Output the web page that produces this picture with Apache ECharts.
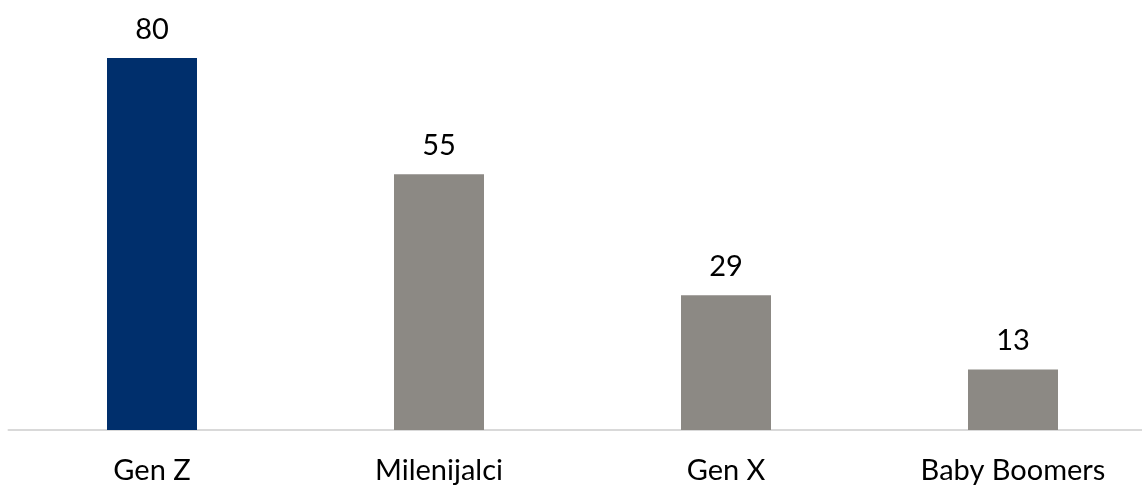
<!DOCTYPE html>
<html>
<head>
<meta charset="utf-8">
<script src="https://cdn.jsdelivr.net/npm/echarts@6/dist/echarts.min.js"></script>
<style>
html,body{margin:0;padding:0;background:#fff;overflow:hidden;width:1142px;height:486px;}
#c{width:1160px;height:486px;}
</style>
</head>
<body>
<div id="c"></div>
<script>
const categories = ["Gen Z", "Milenijalci", "Gen X", "Baby Boomers"];
const values = [80, 55, 29, 13];
const barColors = ["#002F6C", "#8C8984", "#8C8984", "#8C8984"];

const chart = echarts.init(document.getElementById('c'), null, {renderer: 'canvas'});
chart.setOption({
  animation: false,
  backgroundColor: '#ffffff',
  grid: {left: 8.5, width: 1148, top: 11.5, height: 418.5, containLabel: false},
  xAxis: {
    type: 'category',
    data: categories,
    axisLine: {show: true, lineStyle: {color: '#D9D9D9', width: 2}},
    axisTick: {show: false},
    axisLabel: {color: '#000000', fontFamily: 'Lato', fontSize: 29, margin: 26}
  },
  yAxis: {
    type: 'value', min: 0, max: 90, show: false,
    splitLine: {show: false}
  },
  series: [{
    type: 'bar',
    barWidth: 90,
    data: values.map((v, i) => ({value: v, itemStyle: {color: barColors[i]}})),
    label: {show: true, position: 'top', distance: 14, color: '#000000', fontFamily: 'Lato', fontSize: 29}
  }]
});
</script>
</body>
</html>
